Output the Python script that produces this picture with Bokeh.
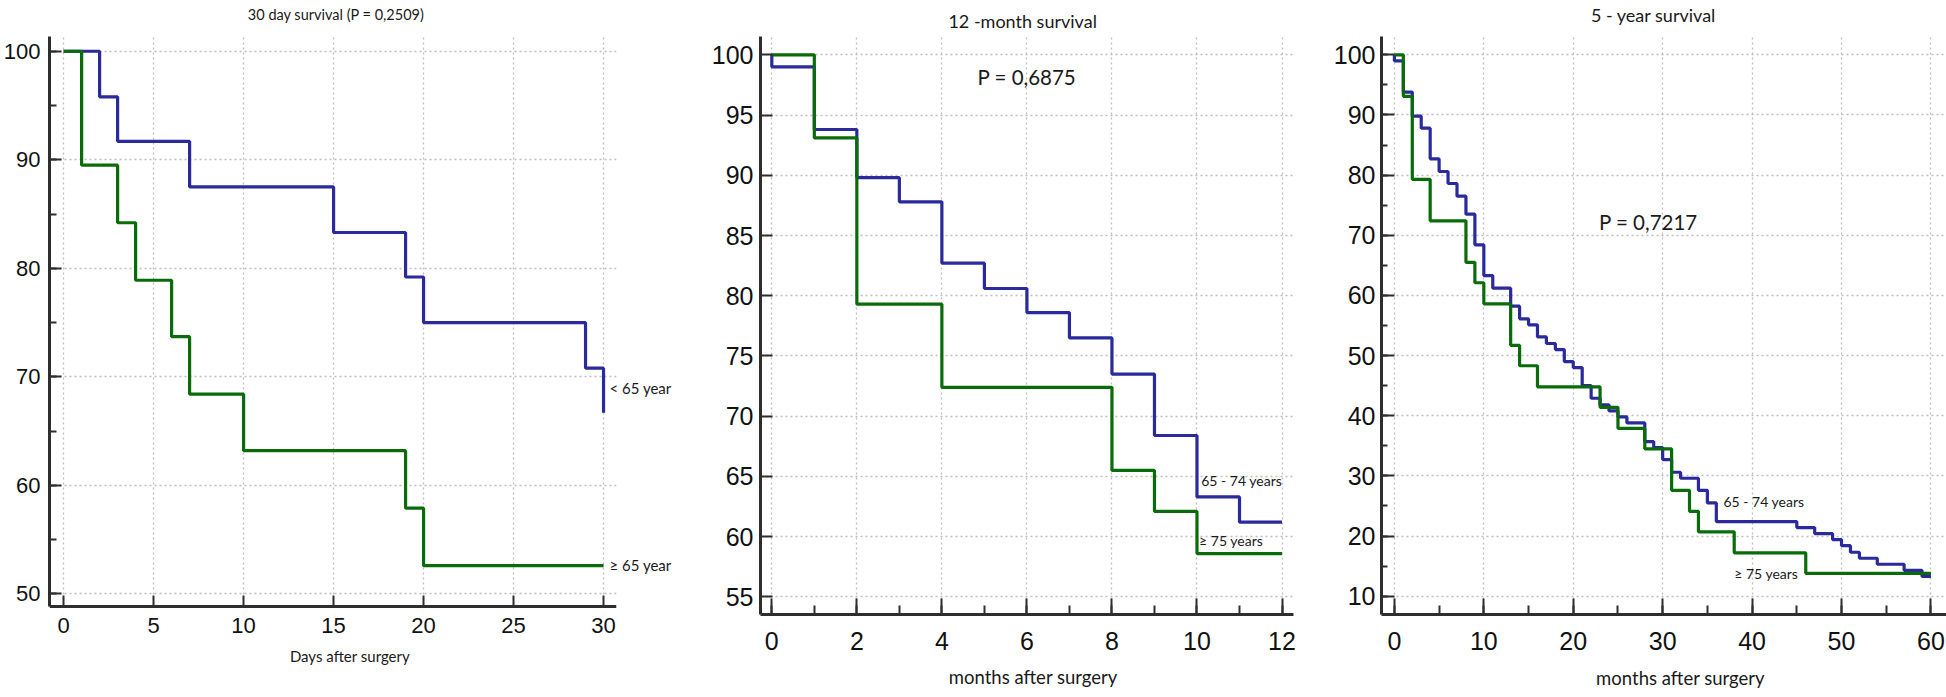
from bokeh.plotting import figure
from bokeh.layouts import row
from bokeh.models import (Range1d, SingleIntervalTicker, FixedTicker, Label, LinearAxis,
                          BoxAnnotation)
from bokeh.embed import file_html
from bokeh.resources import INLINE

# ---------------- data ----------------
# Panel 1: 30 day survival (days)
d30_young_t = [0, 2, 3, 7, 15, 19, 20, 29, 30]
d30_young_s = [100, 95.8, 91.7, 87.5, 83.3, 79.2, 75.0, 70.8, 66.7]
d30_old_t = [0, 1, 3, 4, 6, 7, 10, 19, 20, 30]
d30_old_s = [100, 89.5, 84.2, 78.9, 73.7, 68.4, 63.2, 57.9, 52.6, 52.6]

# Panel 2: 12-month survival (months)
m12_mid_t = [0, 0, 1, 2, 3, 4, 5, 6, 7, 8, 9, 10, 11, 12]
m12_mid_s = [100, 99.0, 93.8, 89.8, 87.8, 82.7, 80.6, 78.6, 76.5, 73.5, 68.4, 63.3, 61.2, 61.2]
m12_old_t = [0, 1, 2, 4, 8, 9, 10, 12]
m12_old_s = [100, 93.1, 79.3, 72.4, 65.5, 62.1, 58.6, 58.6]

# Panel 3: 5-year survival (months)
y5_mid_t = [0, 0, 1, 2, 3, 4, 5, 6, 7, 8, 9, 10, 11, 13, 14, 15, 16, 17, 18, 19, 20,
            21, 22, 23, 24, 25, 26, 28, 29, 30, 31, 32, 34, 35, 36, 45, 47, 49, 50,
            51, 52, 54, 57, 59, 60]
y5_mid_s = [100, 99.0, 93.8, 89.8, 87.8, 82.7, 80.6, 78.6, 76.5, 73.5, 68.4, 63.3, 61.2,
            58.2, 56.1, 55.1, 53.1, 52.0, 51.0, 49.0, 48.0, 45.0, 42.9, 41.8, 40.8, 39.8,
            38.8, 35.7, 34.7, 32.7, 30.6, 29.6, 27.6, 25.5, 22.4, 21.4, 20.4, 19.4, 18.4,
            17.3, 16.3, 15.3, 14.3, 13.3, 13.3]
y5_old_t = [0, 1, 2, 4, 8, 9, 10, 13, 14, 16, 23, 25, 28, 31, 33, 34, 38, 46, 60]
y5_old_s = [100, 93.1, 79.3, 72.4, 65.5, 62.1, 58.6, 51.7, 48.3, 44.8, 41.4, 37.9, 34.5,
            27.6, 24.1, 20.7, 17.2, 13.8, 13.8]

titles = ["30 day survival  (P = 0,2509)", "12 -month survival", "5 - year survival"]
pvals = ["P = 0,6875", "P = 0,7217"]
xlabels = ["Days after surgery", "months after surgery", "months after surgery"]
group_labels_30 = ["< 65 year", "\u2265 65 year"]
group_labels = ["65 - 74 years", "\u2265 75 years"]

BLUE = "#2a2a9c"
GREEN = "#0a6b0a"
AXIS = "#2e2e2e"
GRID = "#bdbdbd"
TXT = "#1a1a1a"
HUM = "Lato"
LW = 3.2


def style_axis(ax, mi, mn, st, tick_size):
    ax.axis_line_color = AXIS
    ax.axis_line_width = 3
    ax.major_tick_line_color = AXIS
    ax.major_tick_line_width = 2
    ax.minor_tick_line_color = AXIS
    ax.minor_tick_line_width = 2
    ax.major_tick_in = mi
    ax.major_tick_out = 0
    ax.minor_tick_in = mn
    ax.minor_tick_out = 0
    ax.major_label_text_font = "Liberation Sans"
    ax.major_label_text_font_size = f"{tick_size}px"
    ax.major_label_text_color = "#111111"
    ax.major_label_standoff = st


def make_fig(width, mb, xr, yr, xint, xminor, yint, yminor, tick_size,
             xmaj_in, xmin_in, ymaj_in, ymin_in, xstand, ystand):
    p = figure(width=width, height=697, output_backend="svg", toolbar_location=None,
               x_range=Range1d(*xr), y_range=Range1d(*yr), title=None)
    p.min_border_left, p.min_border_right, p.min_border_top, p.min_border_bottom = mb
    p.outline_line_color = None
    p.background_fill_color = "white"
    p.border_fill_color = "white"
    p.xaxis.ticker = SingleIntervalTicker(interval=xint, num_minor_ticks=xminor)
    p.yaxis.ticker = SingleIntervalTicker(interval=yint, num_minor_ticks=yminor)
    style_axis(p.xaxis[0], xmaj_in, xmin_in, xstand, tick_size)
    style_axis(p.yaxis[0], ymaj_in, ymin_in, ystand, tick_size)
    for g in (p.xgrid, p.ygrid):
        g.grid_line_color = GRID
        g.grid_line_dash = "2 3"
        g.grid_line_width = 1.3
    return p


def text_axis(p, side, ticks, texts, size, standoff):
    """Axis without line/ticks that carries texts at given data positions."""
    ax = LinearAxis(ticker=FixedTicker(ticks=ticks, minor_ticks=[]),
                    major_label_overrides=dict(zip(ticks, texts)),
                    axis_line_color=None, major_tick_line_color=None,
                    minor_tick_line_color=None, major_tick_in=0, major_tick_out=0,
                    minor_tick_in=0, minor_tick_out=0, major_label_standoff=standoff,
                    major_label_text_font=HUM, major_label_text_font_size=f"{size}px",
                    major_label_text_color=TXT)
    p.add_layout(ax, side)
    return ax


def add_label(p, x, y, text, size, align="left"):
    p.add_layout(Label(x=x, y=y, text=text, text_font=HUM, text_font_size=f"{size}px",
                       text_color=TXT, text_align=align, text_baseline="middle"))


# Frames of the three panels share top (35) and bottom (697-83) edges.
# ---------------- Panel 1 ----------------
P1_AXIS_Y = 48.83   # where this panel's x axis line sits (above the shared frame bottom)
p1 = make_fig(700, (46, 84, 35, 83), (-0.785, 30.72), (48.10, 101.36), 5, 0, 10, 2,
              22, 11, 0, 12, 7, 3, 9)
# bottom axis keeps only its labels; the visible line + ticks sit at P1_AXIS_Y
p1.xaxis[0].axis_line_color = None
p1.xaxis[0].major_tick_line_color = None
p1.yaxis[0].bounds = (P1_AXIS_Y, 101.36)
p1.add_layout(BoxAnnotation(top=P1_AXIS_Y - 0.12, fill_color="white", fill_alpha=1.0,
                            line_color=None, level="underlay"))
inner_x = LinearAxis(fixed_location=P1_AXIS_Y,
                     ticker=SingleIntervalTicker(interval=5, num_minor_ticks=0))
style_axis(inner_x, 11, 0, 0, 22)
inner_x.major_label_text_alpha = 0
p1.add_layout(inner_x, "below")

p1.step(d30_young_t, d30_young_s, mode="after", line_color=BLUE, line_width=LW)
p1.step(d30_old_t, d30_old_s, mode="after", line_color=GREEN, line_width=LW)
text_axis(p1, "above", [15.25], [titles[0]], 14.5, 14)
text_axis(p1, "below", [15.91], [xlabels[0]], 15, 11)
text_axis(p1, "right", [69.0, 52.7], group_labels_30, 15, -7)

# ---------------- Panel 2 ----------------
p2 = make_fig(620, (60, 27, 35, 83), (-0.266, 12.27), (53.54, 101.52), 2, 2, 5, 0,
              25, 16, 9, 12, 0, 17, 7)
p2.step(m12_mid_t, m12_mid_s, mode="after", line_color=BLUE, line_width=LW)
p2.step(m12_old_t, m12_old_s, mode="after", line_color=GREEN, line_width=LW)
text_axis(p2, "above", [5.9], [titles[1]], 18, 5)
text_axis(p2, "below", [6.15], [xlabels[1]], 18.5, 13)
add_label(p2, 6.0, 98.15, pvals[0], 20.5, "center")
add_label(p2, 10.1, 64.65, group_labels[0], 14)
add_label(p2, 10.05, 59.68, group_labels[1], 14)

# ---------------- Panel 3 ----------------
p3 = make_fig(626, (61, 0, 35, 83), (-1.443, 61.74), (6.95, 103.04), 10, 2, 10, 2,
              25, 16, 9, 13, 6, 17, 6)
p3.step(y5_mid_t, y5_mid_s, mode="after", line_color=BLUE, line_width=LW)
p3.step(y5_old_t, y5_old_s, mode="after", line_color=GREEN, line_width=LW)
text_axis(p3, "above", [28.98], [titles[2]], 18, 11)
text_axis(p3, "below", [32.0], [xlabels[2]], 18.5, 14)
add_label(p3, 28.4, 72.17, pvals[1], 20.5, "center")
add_label(p3, 36.8, 25.7, group_labels[0], 14)
add_label(p3, 38.0, 13.76, group_labels[1], 14)

layout = row(p1, p2, p3)
open("out.html", "w").write(file_html(layout, INLINE))
